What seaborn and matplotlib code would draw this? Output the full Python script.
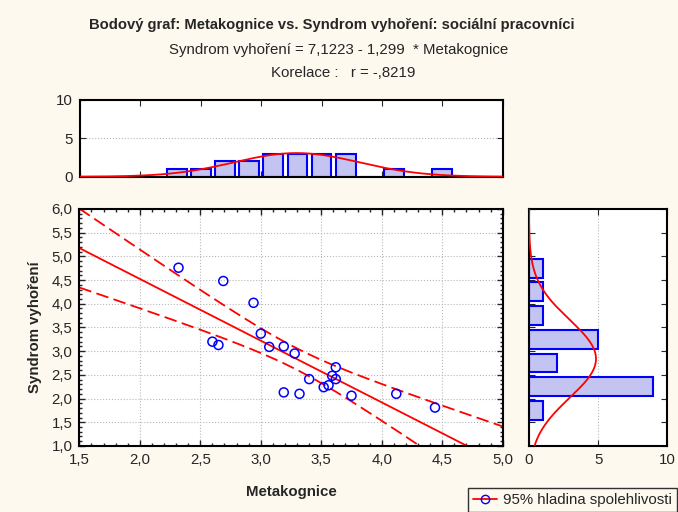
import numpy as np
import pandas as pd
import matplotlib
matplotlib.use('Agg')
import matplotlib.pyplot as plt
from matplotlib.ticker import FuncFormatter, MultipleLocator
from matplotlib.lines import Line2D
import seaborn as sns

# values
metakognice = [2.32, 2.69, 2.94, 3.00, 2.60, 2.65, 3.07, 3.19, 3.28, 3.62,
               3.59, 3.62, 3.40, 3.56, 3.52, 3.19, 3.32, 3.75, 4.12, 4.44]
syndrom = [4.76, 4.48, 4.02, 3.37, 3.20, 3.13, 3.09, 3.10, 2.95, 2.66,
           2.48, 2.41, 2.41, 2.28, 2.24, 2.13, 2.10, 2.06, 2.10, 1.81]

# histogram bins as drawn by the original program
meta_bins = [2.1, 2.3, 2.5, 2.7, 2.9, 3.1, 3.3, 3.5, 3.7, 3.9, 4.1, 4.3, 4.5, 4.7]
meta_counts = [0, 1, 1, 2, 2, 3, 3, 3, 3, 0, 1, 0, 1, 0]
synd_bins = [1.75, 2.25, 2.75, 3.25, 3.75, 4.25, 4.75]
synd_counts = [1, 9, 2, 5, 1, 1, 1]

title = 'Bodový graf: Metakognice vs. Syndrom vyhoření: sociální pracovníci'
subtitle1 = 'Syndrom vyhoření = 7,1223 - 1,299  * Metakognice'
subtitle2 = 'Korelace :   r = -,8219'

df = pd.DataFrame({'Metakognice': metakognice, 'Syndrom vyhoření': syndrom})

sns.set_style('ticks')
plt.rcParams['font.family'] = ['Liberation Sans', 'DejaVu Sans']
plt.rcParams['font.size'] = 11

BG = '#fdf9ef'
BAR_FC = '#c4c4f2'
BLUE = '#0000ff'
RED = '#ff0000'
DASH = (0, (7, 3))
FS = 10.8

comma = FuncFormatter(lambda v, p: f'{v:.1f}'.replace('.', ','))

fig = plt.figure(figsize=(6.78, 5.12), dpi=100, facecolor=BG)
ax = fig.add_axes([0.117, 0.129, 0.6245, 0.4629])
ax_top = fig.add_axes([0.118, 0.655, 0.6235, 0.1498])
ax_right = fig.add_axes([0.7802, 0.129, 0.204, 0.4629])

# --- scatter with regression line and 95% band
x = np.array(metakognice)
y = np.array(syndrom)
n = len(x)
b1, b0 = np.polyfit(x, y, 1)
resid = y - (b0 + b1 * x)
s = np.sqrt(np.sum(resid ** 2) / (n - 2))
sxx = np.sum((x - x.mean()) ** 2)
t = 2.1009  # t(0.975, df=18)
xs = np.linspace(1.5, 5.0, 200)
fit = b0 + b1 * xs
half = t * s * np.sqrt(1 / n + (xs - x.mean()) ** 2 / sxx)

ax.plot(xs, fit, color=RED, lw=1.3, zorder=2)
ax.plot(xs, fit + half, color=RED, lw=1.3, ls=DASH, zorder=2)
ax.plot(xs, fit - half, color=RED, lw=1.3, ls=DASH, zorder=2)
sns.scatterplot(data=df, x='Metakognice', y='Syndrom vyhoření', ax=ax,
                marker='o', facecolor='none', edgecolor=BLUE, s=42,
                linewidth=1.1, zorder=3)

ax.set_xlim(1.5, 5.0)
ax.set_ylim(1.0, 6.0)
ax.xaxis.set_major_locator(MultipleLocator(0.5))
ax.yaxis.set_major_locator(MultipleLocator(0.5))
ax.xaxis.set_minor_locator(MultipleLocator(0.1))
ax.yaxis.set_minor_locator(MultipleLocator(0.1))
ax.xaxis.set_major_formatter(comma)
ax.yaxis.set_major_formatter(comma)
ax.tick_params(which='both', direction='in', top=True, right=True, labelsize=FS, pad=5)
ax.tick_params(which='major', length=4, width=1)
ax.tick_params(which='minor', length=2.5, width=1)
ax.grid(True, which='major', ls=':', color='#b8b8b8', lw=0.8)
ax.set_xlabel('Metakognice', fontweight='bold', fontsize=FS, labelpad=13)
ax.set_ylabel('Syndrom vyhoření', fontweight='bold', fontsize=FS, labelpad=7)
ax.set_facecolor('white')

# --- top histogram
sns.histplot(x=meta_bins, weights=meta_counts, binwidth=0.2, binrange=(2.0, 4.8),
             shrink=0.82, ax=ax_top, color=BAR_FC, edgecolor=BLUE, linewidth=1.5,
             alpha=1, zorder=2)
mx, sx = x.mean(), x.std(ddof=1)
pdf_x = n * 0.2 / (sx * np.sqrt(2 * np.pi)) * np.exp(-0.5 * ((xs - mx) / sx) ** 2)
ax_top.plot(xs, pdf_x, color=RED, lw=1.3, zorder=3)
ax_top.set_xlim(1.5, 5.0)
ax_top.set_ylim(0, 10)
ax_top.set_yticks([0, 5, 10])
ax_top.xaxis.set_major_locator(MultipleLocator(0.5))
ax_top.tick_params(axis='x', which='both', direction='in', top=True, labelbottom=False, length=4)
ax_top.tick_params(axis='y', direction='in', right=True, length=4, labelsize=FS, pad=5)
ax_top.grid(True, axis='y', ls=':', color='#b8b8b8', lw=0.8)
ax_top.set_xlabel('')
ax_top.set_ylabel('')
ax_top.set_facecolor('white')

# --- right histogram
sns.histplot(y=synd_bins, weights=synd_counts, binwidth=0.5, binrange=(1.5, 5.0),
             shrink=0.8, ax=ax_right, color=BAR_FC, edgecolor=BLUE, linewidth=1.5,
             alpha=1, zorder=2)
ys = np.linspace(1.0, 6.0, 200)
my, sy = y.mean(), y.std(ddof=1)
pdf_y = n * 0.5 / (sy * np.sqrt(2 * np.pi)) * np.exp(-0.5 * ((ys - my) / sy) ** 2)
ax_right.plot(pdf_y, ys, color=RED, lw=1.3, zorder=3)
ax_right.set_xlim(0, 10)
ax_right.set_ylim(1.0, 6.0)
ax_right.set_xticks([0, 5, 10])
ax_right.yaxis.set_major_locator(MultipleLocator(0.5))
ax_right.tick_params(axis='y', direction='in', right=True, labelleft=False, length=4)
ax_right.tick_params(axis='x', direction='in', top=True, length=4, labelsize=FS, pad=5)
ax_right.grid(True, axis='x', ls=':', color='#b8b8b8', lw=0.8)
ax_right.set_xlabel('')
ax_right.set_ylabel('')
ax_right.set_facecolor('white')

for a in (ax, ax_top, ax_right):
    for sp in a.spines.values():
        sp.set_visible(True)
        sp.set_color('black')
        sp.set_linewidth(1.5)

# --- titles
fig.text(0.489, 0.951, title, ha='center', va='center', fontsize=10.6, fontweight='bold')
fig.text(0.5, 0.902, subtitle1, ha='center', va='center', fontsize=FS)
fig.text(0.506, 0.857, subtitle2, ha='center', va='center', fontsize=FS)

# --- legend
handle = Line2D([], [], color=RED, lw=1.3, marker='o', markerfacecolor='none',
                markeredgecolor=BLUE, markersize=6)
leg = fig.legend([handle], ['95% hladina spolehlivosti'], loc='upper left',
                 bbox_to_anchor=(0.69, 0.047), frameon=True, fancybox=False,
                 fontsize=FS, handlelength=1.6, handletextpad=0.4,
                 borderpad=0.35, borderaxespad=0)
leg.get_frame().set_edgecolor('black')
leg.get_frame().set_facecolor(BG)
leg.get_frame().set_linewidth(1.0)

fig.savefig('out.png', dpi=100, facecolor=BG)
